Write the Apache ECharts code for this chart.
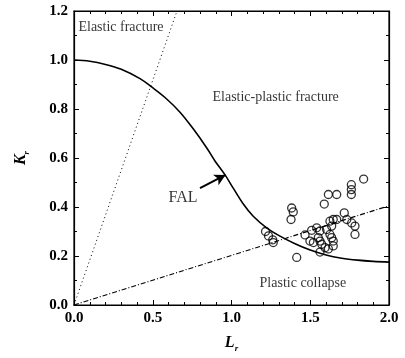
<!DOCTYPE html>
<html><head><meta charset="utf-8">
<script src="https://cdn.jsdelivr.net/npm/echarts@6/dist/echarts.min.js"></script>
<style>html,body{margin:0;padding:0;background:#fff}#c{width:405px;height:358px}</style>
</head><body><div id="c"></div>
<script>
// FAL curve
var falLr = [0, 0.10, 0.20, 0.30, 0.419, 0.493, 0.578, 0.673, 0.757, 0.843, 0.895, 0.959, 1.011, 1.075, 1.138, 1.223, 1.308, 1.40, 1.50, 1.60, 1.70, 1.80, 1.90, 2.0];
var falKr = [1.0, 0.995, 0.982, 0.962, 0.924, 0.890, 0.847, 0.787, 0.719, 0.641, 0.588, 0.531, 0.477, 0.412, 0.362, 0.315, 0.281, 0.251, 0.224, 0.204, 0.191, 0.183, 0.178, 0.175];
// Elastic fracture boundary (dotted) and plastic collapse boundary (dash-dot)
var elasticLr = [0, 0.654];
var elasticKr = [0, 1.2];
var collapseLr = [0, 2.0];
var collapseKr = [0, 0.405];
// Assessment points
var ptLr = [1.216, 1.235, 1.262, 1.265, 1.382, 1.392, 1.378, 1.414, 1.467, 1.509, 1.541, 1.562, 1.498, 1.520, 1.551, 1.562, 1.573, 1.562, 1.594, 1.615, 1.604, 1.625, 1.646, 1.668, 1.636, 1.625, 1.636, 1.646, 1.646, 1.716, 1.732, 1.763, 1.784, 1.784, 1.589, 1.615, 1.668, 1.761, 1.761, 1.761, 1.839];
var ptKr = [0.300, 0.282, 0.266, 0.255, 0.396, 0.380, 0.349, 0.194, 0.286, 0.305, 0.315, 0.302, 0.261, 0.255, 0.275, 0.261, 0.248, 0.216, 0.234, 0.229, 0.308, 0.342, 0.349, 0.349, 0.322, 0.288, 0.275, 0.261, 0.241, 0.376, 0.349, 0.335, 0.322, 0.288, 0.412, 0.451, 0.451, 0.491, 0.471, 0.451, 0.514];
// Region labels
var labelText = ['Elastic fracture', 'Elastic-plastic fracture', 'FAL', 'Plastic collapse'];
var labelLr = [0.025, 0.876, 0.597, 1.175];
var labelKr = [1.135, 0.848, 0.436, 0.089];
var labelSize = [14, 14, 16, 14];
// FAL arrow
var arrowFrom = [0.80, 0.477];
var arrowTo = [0.962, 0.531];

function zip(a, b) { return a.map(function (v, i) { return [v, b[i]]; }); }
var serif = '"Liberation Serif", "DejaVu Serif", serif';

var chart = echarts.init(document.getElementById('c'), null, {renderer: 'canvas'});
function axisCommon(minorSplit) {
  return {
    axisLine: {show: true, onZero: false, lineStyle: {color: '#000', width: 1.2}},
    axisTick: {show: true, inside: true, length: 5, lineStyle: {color: '#000'}},
    minorTick: {show: true, splitNumber: minorSplit, length: 3, lineStyle: {color: '#000'}},
    splitLine: {show: false}
  };
}
var tickLabel = {color: '#000', fontFamily: serif, fontWeight: 'bold', fontSize: 15, margin: 6,
  formatter: function (v) { return v.toFixed(1); }};
function nameRich() {
  return {rich: {
    a: {fontFamily: serif, fontStyle: 'italic', fontWeight: 'bold', fontSize: 16, color: '#000'},
    b: {fontFamily: serif, fontStyle: 'italic', fontWeight: 'bold', fontSize: 9, color: '#000', padding: [12, 0, 0, 0]}
  }};
}
chart.setOption({
  animation: false,
  backgroundColor: '#fff',
  grid: {left: 74, right: 16, top: 11, bottom: 50, show: true, borderColor: '#000', borderWidth: 1.2},
  xAxis: [
    Object.assign({type: 'value', min: 0, max: 2.0, interval: 0.5, axisLabel: tickLabel,
      name: '{a|L}{b|r}', nameLocation: 'middle', nameGap: 27, nameTextStyle: nameRich()}, axisCommon(5)),
    Object.assign({type: 'value', position: 'top', min: 0, max: 2.0, interval: 0.5, axisLabel: {show: false}}, axisCommon(5))
  ],
  yAxis: [
    Object.assign({type: 'value', min: 0, max: 1.2, interval: 0.2, axisLabel: tickLabel,
      name: '{a|K}{b|r}', nameLocation: 'middle', nameGap: 43, nameRotate: 90, nameTextStyle: nameRich()}, axisCommon(2)),
    Object.assign({type: 'value', position: 'right', min: 0, max: 1.2, interval: 0.2, axisLabel: {show: false}}, axisCommon(2))
  ],
  series: [
    {type: 'line', data: zip(falLr, falKr), smooth: 0.35, symbol: 'none',
      lineStyle: {color: '#000', width: 1.6},
      markLine: {silent: true, symbol: ['none', 'arrow'], symbolSize: [9, 11],
        lineStyle: {color: '#000', width: 2, type: 'solid'}, label: {show: false},
        data: [[{coord: arrowFrom}, {coord: arrowTo}]]}},
    {type: 'line', data: zip(elasticLr, elasticKr), symbol: 'none',
      lineStyle: {color: '#000', width: 1, type: [1, 3]}},
    {type: 'line', data: zip(collapseLr, collapseKr), symbol: 'none',
      lineStyle: {color: '#000', width: 1.1, type: [5, 2, 1, 2]}},
    {type: 'scatter', data: zip(ptLr, ptKr), symbol: 'circle', symbolSize: 8,
      itemStyle: {color: 'rgba(0,0,0,0)', borderColor: '#000', borderWidth: 1.3}},
    {type: 'scatter', symbol: 'circle', symbolSize: 1, silent: true,
      itemStyle: {color: 'rgba(0,0,0,0)'},
      data: labelText.map(function (t, i) {
        return {value: [labelLr[i], labelKr[i]], name: t, label: {fontSize: labelSize[i]}};
      }),
      label: {show: true, position: 'right', distance: 0, formatter: '{b}', color: '#000',
        fontFamily: serif, fontSize: 14}}
  ]
});
</script></body></html>
